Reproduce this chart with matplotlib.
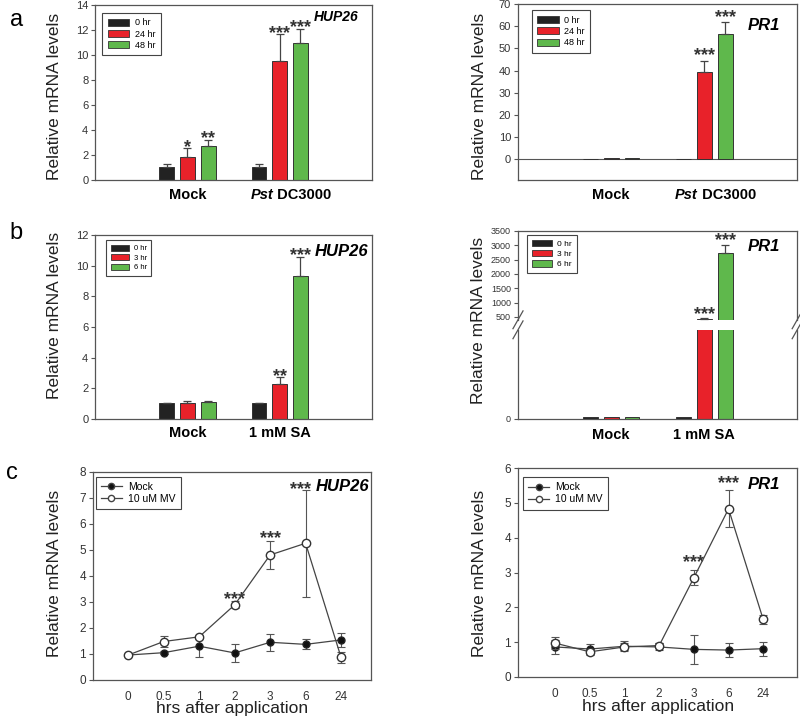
import numpy as np
import matplotlib.pyplot as plt
import matplotlib.transforms as mtransforms
from matplotlib.lines import Line2D

plt.rcParams['font.family'] = ['Liberation Sans', 'DejaVu Sans']

# ---- data ----
groups_a = ['Mock', 'Pst DC3000']
times_a = ['0 hr', '24 hr', '48 hr']
hup_a = [[1.0, 1.85, 2.75], [1.0, 9.55, 11.0]]
hup_a_err = [[0.25, 0.7, 0.45], [0.25, 2.1, 1.1]]
hup_a_star = [['', '*', '**'], ['', '***', '***']]
pr1_a = [[0.2, 0.4, 0.25], [0.2, 39.5, 56.5]]
pr1_a_err = [[0.0, 0.0, 0.0], [0.0, 5.0, 5.5]]
pr1_a_star = [['', '', ''], ['', '***', '***']]

groups_b = ['Mock', '1 mM SA']
times_b = ['0 hr', '3 hr', '6 hr']
hup_b = [[1.0, 1.05, 1.1], [1.0, 2.25, 9.3]]
hup_b_err = [[0.05, 0.08, 0.03], [0.05, 0.45, 1.3]]
hup_b_star = [['', '', ''], ['', '**', '***']]
pr1_b = [[1.0, 1.0, 1.0], [1.0, 440, 2720]]
pr1_b_err = [[0, 0, 0], [0, 20, 300]]
pr1_b_star = [['', '', ''], ['', '***', '***']]

hrs = ['0', '0.5', '1', '2', '3', '6', '24']
hup_mock = [0.95, 1.04, 1.29, 1.03, 1.44, 1.36, 1.53]
hup_mock_err = [0.03, 0.06, 0.4, 0.33, 0.32, 0.19, 0.28]
hup_mv = [0.95, 1.47, 1.65, 2.88, 4.8, 5.25, 0.86]
hup_mv_err = [0.03, 0.23, 0.08, 0.14, 0.54, 2.05, 0.2]
hup_mv_star = ['', '', '', '***', '***', '***', '']
pr1_mock = [0.86, 0.8, 0.88, 0.86, 0.79, 0.77, 0.81]
pr1_mock_err = [0.2, 0.15, 0.15, 0.1, 0.41, 0.2, 0.2]
pr1_mv = [0.97, 0.72, 0.86, 0.9, 2.85, 4.83, 1.65]
pr1_mv_err = [0.18, 0.08, 0.1, 0.08, 0.22, 0.53, 0.12]
pr1_mv_star = ['', '', '', '', '***', '***', '']

colors = ['#222222', '#e8222a', '#5fb84c']
edge = '#333333'
spine_c = '#555555'

fig = plt.figure(figsize=(8.0, 7.17), dpi=100)


def style(ax, tsize=8):
    for s in ax.spines.values():
        s.set_color(spine_c)
        s.set_linewidth(0.9)
    ax.tick_params(axis='y', direction='out', length=3, color=spine_c,
                   labelsize=tsize, labelcolor='#333333', pad=2)
    ax.tick_params(axis='x', length=0, labelsize=11, pad=8)


def bars(ax, vals, errs):
    w, off = 0.16, 0.225
    for g in range(2):
        for k in range(3):
            x = g + (k - 1) * off
            ax.bar(x, vals[g][k], width=w, color=colors[k], edgecolor=edge,
                   linewidth=0.7, zorder=2)
            if errs[g][k] > 0:
                ax.errorbar(x, vals[g][k], yerr=[[0], [errs[g][k]]], fmt='none',
                            ecolor='#444444', elinewidth=0.9, capsize=3,
                            capthick=0.9, zorder=3)


def star_text(ax, x, y, s, size=13):
    if s:
        ax.text(x, y, s, ha='center', va='bottom', fontsize=size,
                fontweight='bold', color='#333333')


def xlabels(ax, labels, y=-0.07):
    trans = mtransforms.blended_transform_factory(ax.transData, ax.transAxes)
    ax.set_xticks([])
    ax.text(0, y, labels[0], transform=trans, ha='center', va='top',
            fontsize=10.5, fontweight='bold')
    if labels[1].startswith('Pst'):
        t = ax.text(0.93, y, 'Pst', transform=trans, ha='right', va='top',
                    fontsize=10.5, fontweight='bold', style='italic')
        ax.annotate(' DC3000', xy=(1, 0), xycoords=t, ha='left', va='bottom',
                    fontsize=10.5, fontweight='bold')
    else:
        ax.text(1, y, labels[1], transform=trans, ha='center', va='top',
                fontsize=10.5, fontweight='bold')


def bar_legend(ax, labels, fs=6.5, anchor=(0.02, 0.98)):
    handles = [plt.Rectangle((0, 0), 1, 1, facecolor=c, edgecolor=edge, linewidth=0.6)
               for c in colors]
    leg = ax.legend(handles, labels, loc='upper left', bbox_to_anchor=anchor,
                    fontsize=fs, handlelength=2.4, handleheight=0.8,
                    fancybox=False, edgecolor='#444444', framealpha=1,
                    borderpad=0.6, labelspacing=0.25, handletextpad=0.6,
                    borderaxespad=0)
    leg.get_frame().set_linewidth(0.8)


def ylab(x, y):
    fig.text(x, y, 'Relative mRNA levels', rotation=90, ha='center',
             va='center', fontsize=12.5, color='#222222')


def gene(ax, s, x, y, size=12):
    ax.text(x, y, s, transform=ax.transAxes, ha='right', va='center',
            fontsize=size, fontweight='bold', style='italic')


# ---- a left ----
ax = fig.add_axes([0.119, 0.749, 0.346, 0.244])
bars(ax, hup_a, hup_a_err)
for g in range(2):
    for k in range(3):
        star_text(ax, g + (k - 1) * 0.225, hup_a[g][k] + hup_a_err[g][k] - 0.6,
                  hup_a_star[g][k])
ax.set_xlim(-1, 2)
ax.set_ylim(0, 14)
ax.set_yticks(range(0, 15, 2))
style(ax)
xlabels(ax, groups_a, y=-0.045)
bar_legend(ax, times_a, anchor=(0.025, 0.954))
gene(ax, 'HUP26', 0.952, 0.93, size=10)
ylab(0.068, 0.865)
fig.text(0.012, 0.988, 'a', fontsize=17, va='top')

# ---- a right ----
ax = fig.add_axes([0.6475, 0.749, 0.349, 0.245])
bars(ax, pr1_a, pr1_a_err)
for g in range(2):
    for k in range(3):
        star_text(ax, g + (k - 1) * 0.225, pr1_a[g][k] + pr1_a_err[g][k] - 1.7,
                  pr1_a_star[g][k])
ax.axhline(0, color='#555555', linewidth=0.8, zorder=1)
ax.set_xlim(-1, 2)
ax.set_ylim(-9.5, 70)
ax.set_yticks(range(0, 71, 10))
style(ax)
xlabels(ax, groups_a, y=-0.045)
bar_legend(ax, times_a, anchor=(0.05, 0.966))
gene(ax, 'PR1', 0.94, 0.88)
ylab(0.6, 0.865)

# ---- b left ----
ax = fig.add_axes([0.119, 0.416, 0.346, 0.256])
bars(ax, hup_b, hup_b_err)
star_text(ax, 1.0, hup_b[1][1] + hup_b_err[1][1] - 0.5, hup_b_star[1][1])
star_text(ax, 1.225, 10.1, hup_b_star[1][2])
ax.set_xlim(-1, 2)
ax.set_ylim(0, 12)
ax.set_yticks(range(0, 13, 2))
style(ax)
xlabels(ax, groups_b, y=-0.04)
bar_legend(ax, times_b, fs=5.5, anchor=(0.04, 0.973))
gene(ax, 'HUP26', 0.985, 0.91)
ylab(0.068, 0.56)
fig.text(0.012, 0.69, 'b', fontsize=17, va='top')

# ---- b right (broken axis) ----
ax_up = fig.add_axes([0.6475, 0.554, 0.349, 0.124])
ax_lo = fig.add_axes([0.6475, 0.416, 0.349, 0.124])
for a_ in (ax_up, ax_lo):
    bars(a_, pr1_b, pr1_b_err)
    a_.set_xlim(-1, 2)
    style(a_, tsize=6.5)
ax_up.set_ylim(400, 3500)
ax_up.set_yticks(range(500, 3501, 500))
ax_lo.set_ylim(0, 60)
ax_lo.set_yticks([0])
ax_up.spines['bottom'].set_visible(False)
ax_lo.spines['top'].set_visible(False)
ax_up.set_xticks([])
star_text(ax_up, 1.0, 300, pr1_b_star[1][1])
star_text(ax_up, 1.225, 2850, pr1_b_star[1][2])
xlabels(ax_lo, groups_b, y=-0.1)
bar_legend(ax_up, times_b, fs=6, anchor=(0.032, 0.955))
gene(ax_up, 'PR1', 0.94, 0.82)
ylab(0.598, 0.553)
# break marks
for a_, yy in ((ax_up, 0.0), (ax_lo, 1.0)):
    for xx in (0.0, 1.0):
        a_.plot([xx - 0.018, xx + 0.018], [yy - 0.1, yy + 0.1], transform=a_.transAxes,
                color=spine_c, linewidth=0.9, clip_on=False)


# ---- c panels ----
def line_panel(rect, mock, mock_err, mv, mv_err, stars, ylim, xlim, name, gx, gy,
               star_y, leg_anchor):
    ax = fig.add_axes(rect)
    x = np.arange(len(hrs))
    ax.errorbar(x, mock, yerr=mock_err, color='#444444', linewidth=0.9,
                marker='o', markersize=5, markerfacecolor='#111111',
                markeredgecolor='#222222', ecolor='#555555', elinewidth=0.8,
                capsize=3, capthick=0.8, zorder=3)
    ax.errorbar(x, mv, yerr=mv_err, color='#444444', linewidth=0.9,
                marker='o', markersize=6, markerfacecolor='white',
                markeredgecolor='#333333', ecolor='#555555', elinewidth=0.8,
                capsize=3, capthick=0.8, zorder=4)
    for i, s in enumerate(stars):
        if s:
            ax.text(x[i] - (0.15 if i == 5 and name == 'HUP26' else 0), star_y[i], s,
                    ha='center', va='bottom', fontsize=13, fontweight='bold',
                    color='#333333')
    ax.set_xlim(*xlim)
    ax.set_ylim(*ylim)
    ax.set_xticks(x)
    ax.set_xticklabels(hrs)
    style(ax)
    ax.tick_params(axis='x', length=0, labelsize=8.5, pad=8, labelcolor='#333333')
    ax.tick_params(axis='y', labelsize=8.5)
    handles = [Line2D([], [], color='#444444', marker='o', markersize=4.5,
                      markerfacecolor='#111111', linewidth=0.9),
               Line2D([], [], color='#444444', marker='o', markersize=4.5,
                      markerfacecolor='white', linewidth=0.9)]
    leg = ax.legend(handles, ['Mock', '10 uM MV'], loc='upper left',
                    bbox_to_anchor=leg_anchor, fontsize=7.5, fancybox=False,
                    edgecolor='#444444', framealpha=1, handlelength=2.0,
                    borderpad=0.5, labelspacing=0.2, handletextpad=0.6,
                    borderaxespad=0)
    leg.get_frame().set_linewidth(0.8)
    ax.text(gx, gy, name, transform=ax.transAxes, ha='right', va='center',
            fontsize=12, fontweight='bold', style='italic')
    ax.set_xlabel('hrs after application', fontsize=12.5, labelpad=-1, color='#222222')
    return ax


line_panel([0.116, 0.052, 0.348, 0.29], hup_mock, hup_mock_err, hup_mv, hup_mv_err,
           hup_mv_star, (0, 8), (-1.0, 6.85), 'HUP26', 0.995, 0.93,
           [0, 0, 0, 2.75, 5.1, 7.0, 0], (0.011, 0.976))
ylab(0.068, 0.2)
fig.text(0.008, 0.355, 'c', fontsize=17, va='top')

line_panel([0.6475, 0.056, 0.349, 0.291], pr1_mock, pr1_mock_err, pr1_mv, pr1_mv_err,
           pr1_mv_star, (0, 6), (-1.07, 6.98), 'PR1', 0.94, 0.92,
           [0, 0, 0, 0, 3.05, 5.3, 0], (0.018, 0.957))
ylab(0.6, 0.2)

fig.savefig('out.png', dpi=100)
